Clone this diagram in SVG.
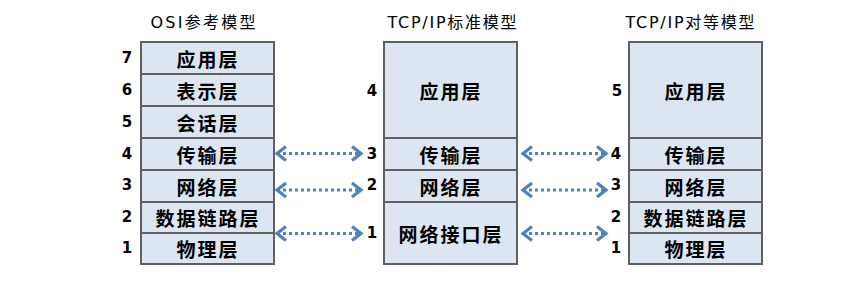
<svg xmlns="http://www.w3.org/2000/svg" width="845" height="286" viewBox="0 0 845 286">
<style>
.box{fill:#dce6f2;stroke:#606060;stroke-width:2}
.lbl{font-family:"Noto Sans CJK SC","Noto Sans",sans-serif;font-weight:bold;font-size:19px;letter-spacing:2px;fill:#000;text-anchor:middle;dominant-baseline:central}
.num{font-family:"DejaVu Sans","Liberation Sans",sans-serif;font-weight:bold;font-size:15px;fill:#000;text-anchor:middle;dominant-baseline:central}
.ttl{font-family:"DejaVu Sans","Noto Sans CJK SC",sans-serif;font-size:16px;fill:#000;text-anchor:middle}
.arr{stroke:#4f81bd;stroke-width:3;stroke-dasharray:3 3;fill:none;marker-start:url(#hd);marker-end:url(#hd)}
</style>
<defs>
<marker id="hd" markerUnits="userSpaceOnUse" markerWidth="14" markerHeight="20" refX="11" refY="10" orient="auto-start-reverse" viewBox="0 0 14 20">
<path d="M2,3 L11,10 L2,17" fill="none" stroke="#4f81bd" stroke-width="3.2" stroke-linejoin="miter"/>
</marker>
</defs>
<rect width="845" height="286" fill="#fff"/>

<g id="osi">
<text class="ttl" x="203" y="28" textLength="105" lengthAdjust="spacing">OSI参考模型</text>
<rect class="box" x="141" y="42" width="133" height="32"/>
<rect class="box" x="141" y="74" width="133" height="32"/>
<rect class="box" x="141" y="106" width="133" height="32"/>
<rect class="box" x="141" y="138" width="133" height="32"/>
<rect class="box" x="141" y="170" width="133" height="32"/>
<rect class="box" x="141" y="202" width="133" height="31"/>
<rect class="box" x="141" y="233" width="133" height="31"/>
<text class="lbl" x="208" y="58">应用层</text>
<text class="lbl" x="208" y="90">表示层</text>
<text class="lbl" x="208" y="122">会话层</text>
<text class="lbl" x="208" y="154">传输层</text>
<text class="lbl" x="208" y="186">网络层</text>
<text class="lbl" x="208" y="217.5">数据链路层</text>
<text class="lbl" x="208" y="248.5">物理层</text>
<text class="num" x="127" y="58">7</text>
<text class="num" x="127" y="90">6</text>
<text class="num" x="127" y="122">5</text>
<text class="num" x="127" y="154">4</text>
<text class="num" x="127" y="185">3</text>
<text class="num" x="127" y="217">2</text>
<text class="num" x="127" y="248">1</text>
</g>

<g id="tcpip-std">
<text class="ttl" x="452" y="28" textLength="129" lengthAdjust="spacing">TCP/IP标准模型</text>
<rect class="box" x="384" y="42" width="133" height="96"/>
<rect class="box" x="384" y="138" width="133" height="32"/>
<rect class="box" x="384" y="170" width="133" height="32"/>
<rect class="box" x="384" y="202" width="133" height="62"/>
<text class="lbl" x="451" y="90">应用层</text>
<text class="lbl" x="451" y="154">传输层</text>
<text class="lbl" x="451" y="186">网络层</text>
<text class="lbl" x="451" y="233">网络接口层</text>
<text class="num" x="372" y="91">4</text>
<text class="num" x="372" y="154">3</text>
<text class="num" x="372" y="185">2</text>
<text class="num" x="372" y="233">1</text>
</g>

<g id="tcpip-peer">
<text class="ttl" x="690" y="28" textLength="129" lengthAdjust="spacing">TCP/IP对等模型</text>
<rect class="box" x="629" y="42" width="133" height="96"/>
<rect class="box" x="629" y="138" width="133" height="32"/>
<rect class="box" x="629" y="170" width="133" height="32"/>
<rect class="box" x="629" y="202" width="133" height="31"/>
<rect class="box" x="629" y="233" width="133" height="31"/>
<text class="lbl" x="696" y="90">应用层</text>
<text class="lbl" x="696" y="154">传输层</text>
<text class="lbl" x="696" y="186">网络层</text>
<text class="lbl" x="696" y="217.5">数据链路层</text>
<text class="lbl" x="696" y="248.5">物理层</text>
<text class="num" x="617" y="91">5</text>
<text class="num" x="616" y="154">4</text>
<text class="num" x="616" y="185">3</text>
<text class="num" x="616" y="217">2</text>
<text class="num" x="616" y="248">1</text>
</g>

<g id="connectors">
<line class="arr" x1="277" y1="153.5" x2="361" y2="153.5"/>
<line class="arr" x1="277" y1="190" x2="361" y2="190"/>
<line class="arr" x1="277" y1="233.5" x2="361" y2="233.5"/>
<line class="arr" x1="523" y1="153.5" x2="606" y2="153.5"/>
<line class="arr" x1="523" y1="190" x2="606" y2="190"/>
<line class="arr" x1="523" y1="233.5" x2="606" y2="233.5"/>
</g>
</svg>
